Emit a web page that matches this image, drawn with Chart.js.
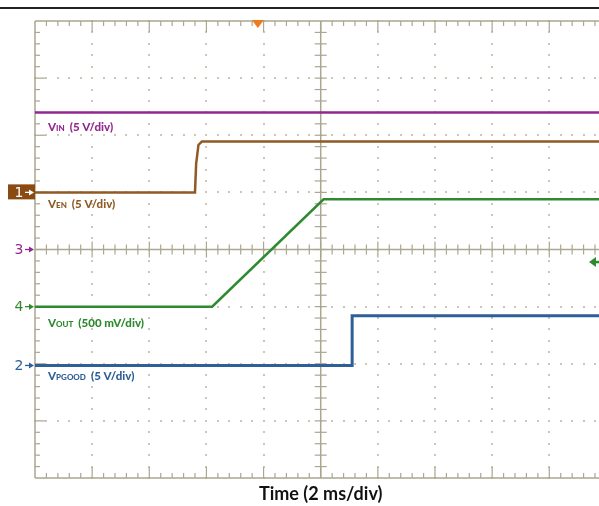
<!DOCTYPE html>
<html>
<head>
<meta charset="utf-8">
<title>Startup waveform</title>
<script src="https://cdn.jsdelivr.net/npm/chart.js@4.4.1/dist/chart.umd.min.js"></script>
<style>
  html, body { margin: 0; padding: 0; background: #fff; }
  #wrap { width: 599px; height: 506px; }
</style>
</head>
<body>
<div id="wrap"><canvas id="scope" width="599" height="506"></canvas></div>
<script>
/* ---- Trace data (x in time divisions, y in vertical divisions, 0 = centre) ---- */
const vinT = [0, 9.87];
const vinV = [2.4, 2.4];

const venT = [0, 2.8, 2.82, 2.86, 2.92, 9.87];
const venV = [1.0, 1.0, 1.5, 1.83, 1.89, 1.89];

const voutT = [0, 3.1, 5.05, 9.87];
const voutV = [-1.0, -1.0, 0.88, 0.88];

const pgT = [0, 5.55, 5.55, 9.87];
const pgV = [-2.03, -2.03, -1.16, -1.16];

// channel ground markers on the left edge
const markerNames = ["1", "3", "4", "2"];
const markerLevels = [1.0, 0, -1.0, -2.03];

// trace captions
const capSub = ["IN", "EN", "OUT", "PGOOD"];
const capScale = ["(5 V/div)", "(5 V/div)", "(500 mV/div)", "(5 V/div)"];
const capLevels = [2.4, 1.0, -1.0, -2.03];

const triggerTime = 3.9;
const triggerLevel = -0.22;
const xTitle = "Time (2 ms/div)";

/* ---- Colors ---- */
const COLORS = {
  vin: "#93278f",
  ven: "#8f5a24",
  venBox: "#8a4a12",
  vout: "#2f8a2f",
  pg: "#2d5f98",
  grid: "#aaa68f",
  dots: "#cbc8ba",
  trig: "#f07a1e",
};
const traceColors = [COLORS.vin, COLORS.ven, COLORS.vout, COLORS.pg];
const markerColors = [COLORS.venBox, COLORS.vin, COLORS.vout, COLORS.pg];
const capOffsets = [19, 16, 20, 15]; // px below trace level

const zip = (xs, ys) => xs.map((x, i) => ({ x, y: ys[i] }));

function trace(label, t, v, color, width) {
  return {
    label,
    data: zip(t, v),
    borderColor: color,
    backgroundColor: color,
    borderWidth: width,
    pointRadius: 0,
    tension: 0,
    fill: false,
  };
}

/* ---------- Graticule ---------- */
const graticule = {
  id: "graticule",
  beforeDatasetsDraw(chart) {
    const { ctx, chartArea: a } = chart;
    const sx = chart.scales.x, sy = chart.scales.y;
    const X = (v) => sx.getPixelForValue(v);
    const Y = (v) => sy.getPixelForValue(v);
    ctx.save();

    // dotted division lines
    ctx.fillStyle = COLORS.dots;
    for (let i = 1; i <= 9; i++) {
      if (i === 5) continue;
      for (let k = -20; k <= 20; k++) ctx.fillRect(Math.round(X(i)) - 1, Math.round(Y(k / 5)) - 1, 2, 2);
    }
    for (let j = -3; j <= 3; j++) {
      if (j === 0) continue;
      for (let k = 0; k <= 49; k++) ctx.fillRect(Math.round(X(k / 5)) - 1, Math.round(Y(j)) - 1, 2, 2);
    }

    ctx.strokeStyle = COLORS.grid;
    ctx.lineWidth = 1.5;
    const line = (x1, y1, x2, y2) => { ctx.beginPath(); ctx.moveTo(x1, y1); ctx.lineTo(x2, y2); ctx.stroke(); };

    // frame (right edge is cropped off)
    line(a.left, a.top, a.right, a.top);
    line(a.left, a.bottom, a.right, a.bottom);
    line(a.left, a.top, a.left, a.bottom);

    // centre axes
    line(X(5), a.top, X(5), a.bottom);
    line(a.left, Y(0), a.right, Y(0));

    ctx.lineWidth = 1.2;
    for (let k = 1; k <= 49; k++) {
      const px = X(k / 5);
      const major = k % 5 === 0;
      line(px, a.top, px, a.top + (major ? 11 : 5));
      line(px, a.bottom, px, a.bottom - (major ? 11 : 5));
      line(px, Y(0) - (major ? 8 : 5), px, Y(0) + (major ? 8 : 5));
    }
    for (let k = -19; k <= 19; k++) {
      const py = Y(k / 5);
      const major = k % 5 === 0;
      line(a.left, py, a.left + (major ? 10 : 5), py);
      line(X(5) - 6, py, X(5) + 6, py);
    }
    ctx.restore();
  },
};

/* ---------- Markers, captions, title ---------- */
const annotations = {
  id: "annotations",
  afterDraw(chart) {
    const { ctx, chartArea: a } = chart;
    const sx = chart.scales.x, sy = chart.scales.y;
    const X = (v) => sx.getPixelForValue(v);
    const Y = (v) => sy.getPixelForValue(v);
    ctx.save();

    // top rule
    ctx.fillStyle = "#222";
    ctx.fillRect(0, 7, 599, 2);

    // channel ground markers
    markerNames.forEach((name, i) => {
      const py = Y(markerLevels[i]);
      const c = markerColors[i];
      let fg = c;
      if (name === "1") {
        ctx.fillStyle = c;
        ctx.fillRect(8, py - 8, a.left - 8, 15);
        fg = "#fff";
      }
      ctx.fillStyle = fg;
      ctx.strokeStyle = fg;
      ctx.font = "14px 'DejaVu Sans'";
      ctx.textAlign = "center";
      ctx.textBaseline = "middle";
      ctx.fillText(name, 19, py + 1);
      ctx.lineWidth = 1.3;
      ctx.beginPath(); ctx.moveTo(25, py); ctx.lineTo(31, py); ctx.stroke();
      ctx.beginPath(); ctx.moveTo(34, py); ctx.lineTo(29, py - 3); ctx.lineTo(29, py + 3); ctx.closePath(); ctx.fill();
    });

    // captions
    ctx.textAlign = "left";
    ctx.textBaseline = "alphabetic";
    capSub.forEach((sub, i) => {
      const py = Y(capLevels[i]) + capOffsets[i];
      let px = 48;
      ctx.fillStyle = traceColors[i];
      ctx.font = "900 11.5px Lato";
      ctx.fillText("V", px, py);
      px += ctx.measureText("V").width;
      ctx.font = "900 8px Lato";
      ctx.fillText(sub, px, py);
      px += ctx.measureText(sub).width + 5;
      ctx.font = "900 11.5px Lato";
      ctx.fillText(capScale[i], px, py);
    });

    // trigger position marker
    const tx = X(triggerTime);
    ctx.fillStyle = COLORS.trig;
    ctx.beginPath(); ctx.moveTo(tx - 6, a.top - 1); ctx.lineTo(tx + 6, a.top - 1); ctx.lineTo(tx, a.top + 7); ctx.closePath(); ctx.fill();

    // trigger level arrow
    const ty = Y(triggerLevel);
    ctx.fillStyle = COLORS.vout;
    ctx.strokeStyle = COLORS.vout;
    ctx.lineWidth = 2.5;
    ctx.beginPath(); ctx.moveTo(589, ty); ctx.lineTo(596, ty - 5); ctx.lineTo(596, ty + 5); ctx.closePath(); ctx.fill();
    ctx.beginPath(); ctx.moveTo(594, ty); ctx.lineTo(599, ty); ctx.stroke();

    // x title
    ctx.fillStyle = "#111";
    ctx.font = "bold 18px Lato";
    ctx.textAlign = "center";
    ctx.textBaseline = "middle";
    ctx.fillText(xTitle, X(5), 494);
    ctx.restore();
  },
};

new Chart(document.getElementById("scope"), {
  type: "line",
  data: {
    datasets: [
      trace("VIN", vinT, vinV, COLORS.vin, 2.5),
      trace("VEN", venT, venV, COLORS.ven, 2.5),
      trace("VOUT", voutT, voutV, COLORS.vout, 2.5),
      trace("VPGOOD", pgT, pgV, COLORS.pg, 3),
    ],
  },
  options: {
    responsive: false,
    animation: false,
    layout: { padding: { left: 35, top: 21, right: 0, bottom: 28 } },
    scales: {
      x: { type: "linear", min: 0, max: 9.87, display: false },
      y: { type: "linear", min: -4, max: 4, display: false },
    },
    plugins: { legend: { display: false }, tooltip: { enabled: false } },
  },
  plugins: [graticule, annotations],
});
</script>
</body>
</html>
